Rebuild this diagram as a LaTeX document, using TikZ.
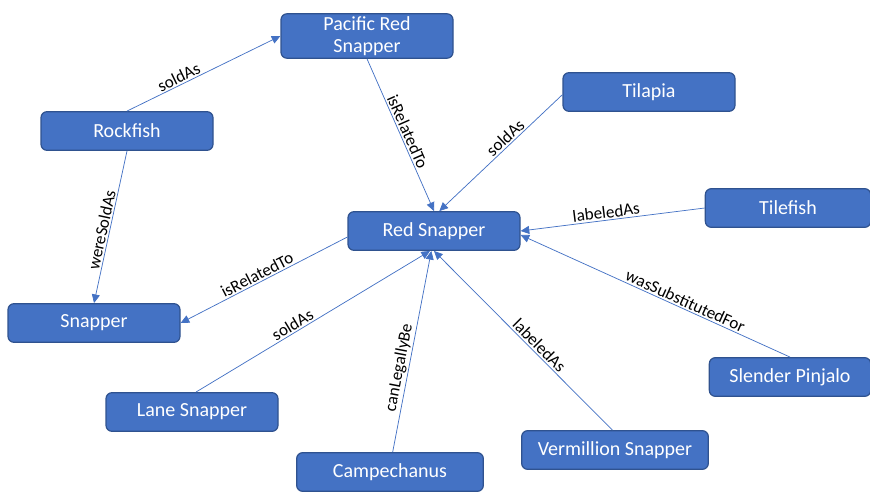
\documentclass[tikz,border=0pt]{standalone}
\usepackage{fontspec}
\setmainfont{Carlito}
\usetikzlibrary{arrows.meta,positioning}
\definecolor{offblue}{HTML}{4472C4}
\definecolor{offedge}{HTML}{2F528F}
\tikzset{
  box/.style={draw=offedge, fill=offblue, line width=0.9pt, rounded corners=4.5pt, align=center,
    text=white, font=\fontsize{15}{16.5}\selectfont, minimum width=129pt, minimum height=29pt, inner sep=2pt},
  lbl/.style={font=\fontsize{12.8}{14}\selectfont, sloped, above, inner sep=1.2pt},
  fl/.style={-{Triangle[length=6.5pt,width=6pt]}, line width=0.55pt, draw=offblue},
}
\begin{document}
\begin{tikzpicture}[x=0.75pt, y=-0.75pt]
  \useasboundingbox (0,0) rectangle (870,492);
  \node[box] (prs) at (367,36) {Pacific Red\\Snapper};
  \node[box] (tila) at (649,92) {Tilapia};
  \node[box] (rock) at (127,131) {Rockfish};
  \node[box, minimum width=124pt] (tile) at (788,208) {Tilefish};
  \node[box] (rs) at (434,231) {Red Snapper};
  \node[box] (snap) at (94,323) {Snapper};
  \node[box, minimum width=121pt] (pinj) at (790,377) {Slender Pinjalo};
  \node[box] (lane) at (192,412) {Lane Snapper};
  \node[box, minimum width=140pt] (verm) at (615,450) {Vermillion Snapper};
  \node[box, minimum width=140pt] (camp) at (390,472) {Campechanus};
  % links
  \draw[fl] (rock.north) -- node[lbl, pos=0.36] {soldAs} (prs.west);
  \draw[fl] (rock.south) -- node[lbl, pos=0.53] {wereSoldAs} (snap.north);
  \draw[fl] (prs.south) -- node[lbl, pos=0.5] {isRelatedTo} (rs.north);
  \draw[fl] ([yshift=-2pt]tila.west) -- node[lbl, pos=0.42] {soldAs} ([xshift=4pt]rs.north);
  \draw[fl] (tile.west) -- node[lbl, pos=0.53] {labeledAs} (rs.east);
  \draw[fl] (pinj.north) -- node[lbl, pos=0.4] {wasSubstitutedFor} ([yshift=-3pt]rs.east);
  \draw[fl] ([yshift=-4.5pt]rs.west) -- node[lbl, pos=0.52] {isRelatedTo} (snap.east);
  \draw[fl] ([xshift=3pt]lane.north) -- node[lbl, pos=0.43] {soldAs} ([xshift=-3pt]rs.south);
  \draw[fl] ([xshift=2pt]camp.north) -- node[lbl, pos=0.41] {canLegallyBe} ([xshift=-2pt]rs.south);
  \draw[fl] ([xshift=-2pt]verm.north) -- node[lbl, pos=0.44] {labeledAs} (rs.south);
\end{tikzpicture}
\end{document}
